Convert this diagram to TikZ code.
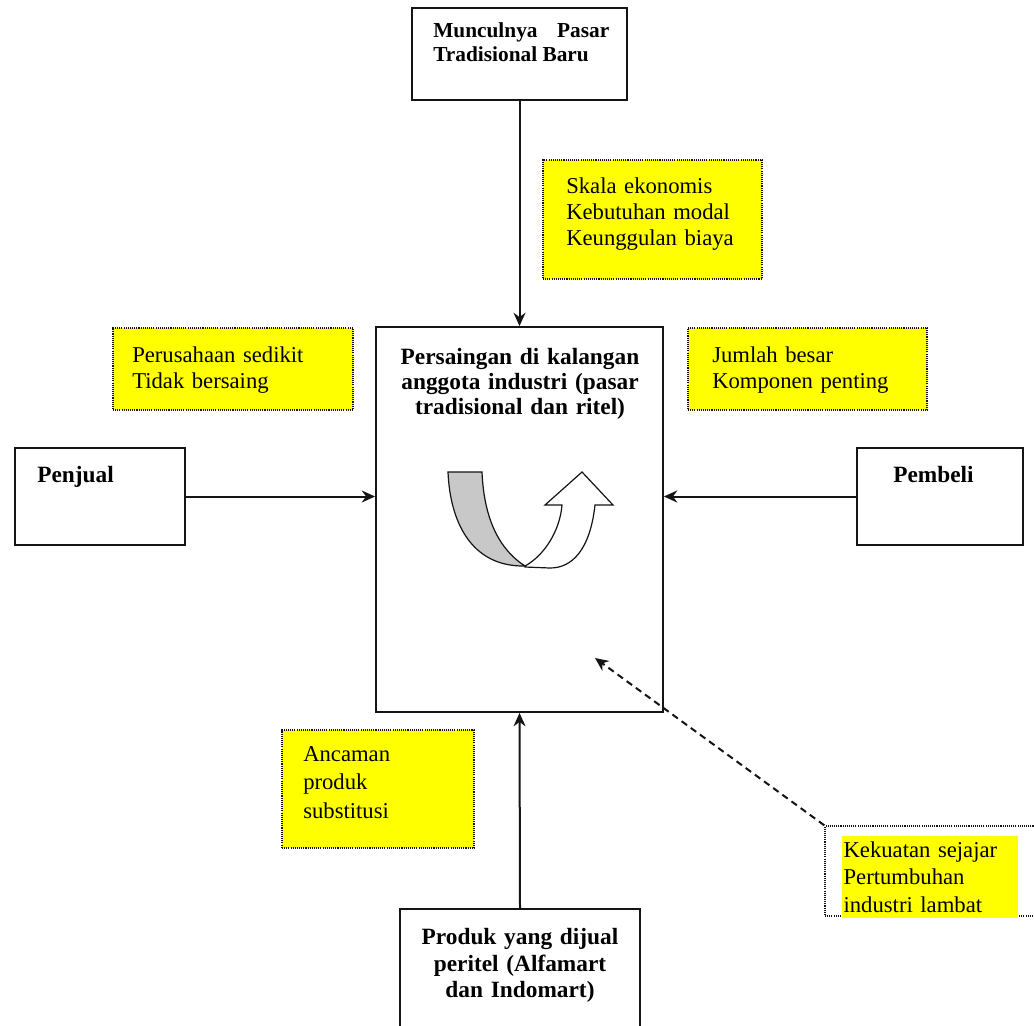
\documentclass[tikz,border=0pt]{standalone}
\usepackage{fontspec}
\setmainfont{Liberation Serif}
\usepackage{tikz}
\usetikzlibrary{arrows.meta, positioning, calc, fit}
\definecolor{mydark}{RGB}{20,20,20}
\definecolor{myyellow}{RGB}{255,255,0}
\definecolor{mygray}{RGB}{200,200,200}
\tikzset{
  block/.style={rectangle, draw=mydark, line width=1.4pt, inner sep=0pt},
  notebox/.style={rectangle, draw=mydark, fill=myyellow, line width=1pt,
    dash pattern=on 0.8pt off 0.8pt, inner sep=0pt},
  boldtext/.style={inner sep=0pt, font=\fontsize{17.5}{19.5}\selectfont\bfseries},
  notetext/.style={inner sep=0pt, align=left, text width=170pt,
    font=\fontsize{17}{19.5}\selectfont},
  arrow/.style={-{Stealth[length=10pt, width=9pt]}, line width=1.5pt, color=mydark},
  dasharrow/.style={arrow, dash pattern=on 5pt off 3.5pt}
}
\begin{document}
\begin{tikzpicture}[x=0.75pt, y=-0.75pt]
  \fill[white] (0,0) rectangle (1034,1025);
  \useasboundingbox (0,0) rectangle (1034,1025);
  % Centre box
  \node[block, fit={(376,327) (663,712)}] (persaingan) {};
  \node[boldtext, text width=190pt, align=center, anchor=north, font=\fontsize{17.5}{18.75}\selectfont\bfseries]
    (persaingantext) at (520,348) {Persaingan di kalangan\\anggota industri (pasar\\tradisional dan ritel)};
  % Top box
  \node[block, fit={(412,8) (627,100)}] (pasar) {};
  \node[boldtext, text width=132pt, align=justify, anchor=north west, font=\fontsize{16}{18}\selectfont\bfseries]
    (pasartext) at (433,22) {Munculnya Pasar Tradisional Baru};
  % Left and right boxes
  \node[block, fit={(15,448) (185,545)}] (penjual) {};
  \node[boldtext, anchor=north west] (penjualtext) at (37,466) {Penjual};
  \node[block, fit={(857,448) (1023,545)}] (pembeli) {};
  \node[boldtext, anchor=north west] (pembelitext) at (893,466) {Pembeli};
  % Bottom box
  \node[block, fit={(400,909) (640,1045)}] (produk) {};
  \node[boldtext, text width=200pt, align=center, anchor=north, font=\fontsize{17.5}{20}\selectfont\bfseries]
    (produktext) at (520,928) {Produk yang dijual\\peritel (Alfamart\\dan Indomart)};
  % Yellow notes
  \node[notebox, fit={(543,160) (762,279)}] (skala) {};
  \node[notetext, anchor=north west] (skalatext) at (566,177)
    {Skala ekonomis\\Kebutuhan modal\\Keunggulan biaya};
  \node[notebox, fit={(113,328) (353,410)}] (perusahaan) {};
  \node[notetext, anchor=north west] (perusahaantext) at (132,346)
    {Perusahaan sedikit\\Tidak bersaing};
  \node[notebox, fit={(688,328) (927,410)}] (jumlah) {};
  \node[notetext, anchor=north west] (jumlahtext) at (712,346)
    {Jumlah besar\\Komponen penting};
  \node[notebox, fit={(282,730) (474,848)}] (ancaman) {};
  \node[notetext, anchor=north west, font=\fontsize{17}{21.5}\selectfont] (ancamantext) at (303,746)
    {Ancaman\\produk\\substitusi};
  % Lower right note
  \node[notebox, fill=white, fit={(825,826) (1040,916)}] (kekuatan) {};
  \node[rectangle, fill=myyellow, inner xsep=1pt, inner ysep=4pt, text width=130pt, align=left,
    anchor=north west, font=\fontsize{17}{20.5}\selectfont] (kekuatantext) at (842,836)
    {Kekuatan sejajar\\Pertumbuhan\\industri lambat};
  % Curved arrow
  \filldraw[fill=mygray, draw=mydark, line width=0.9pt] (448,472) -- (482,472)
    .. controls (484,520) and (500,550) .. (525,566)
    .. controls (470,567) and (450,520) .. (448,472) -- cycle;
  \filldraw[fill=white, draw=mydark, line width=0.9pt] (525,566)
    .. controls (545,555) and (560,530) .. (562,505) -- (545,505) -- (582,472) -- (613,505) -- (595,505)
    .. controls (590,550) and (572,568) .. (550,568) -- (525,567) -- cycle;
  % Connectors
  \coordinate (dashend) at (595,658);
  \draw[arrow] (pasar.south) -- (persaingan.north);
  \draw[arrow] (penjual.east) -- (penjual.east -| persaingan.west);
  \draw[arrow] (pembeli.west) -- (pembeli.west -| persaingan.east);
  \draw[arrow] (produk.north) -- (persaingan.south);
  \draw[dasharrow] (kekuatan.north west) -- (dashend);
\end{tikzpicture}
\end{document}
